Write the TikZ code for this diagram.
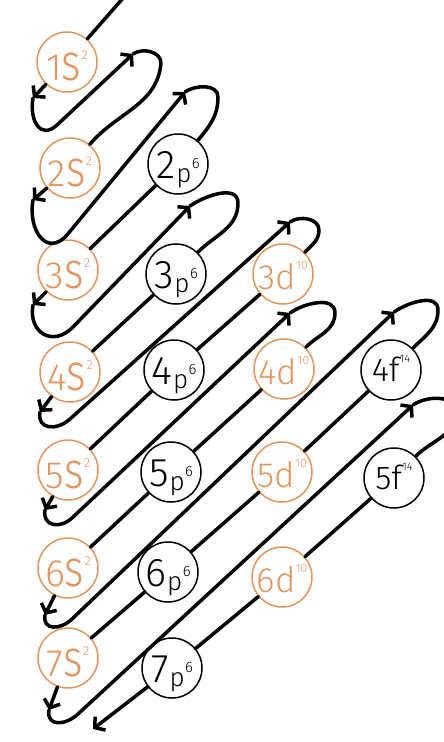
\documentclass[tikz,border=0pt]{standalone}
\usepackage{fontspec}
\usetikzlibrary{arrows.meta}
\newfontfamily\hand{Fira Sans Light}
\definecolor{orng}{RGB}{226,150,95}
\newcommand\lblS[2]{\smash{\raisebox{-18pt}{\fontsize{38}{38}\selectfont #1\scalebox{1.1}[1.36]{s}\kern0.3pt\raisebox{21pt}{\fontsize{13}{13}\selectfont #2}}}}
\newcommand\lblP[2]{\smash{\raisebox{-14pt}{\fontsize{40}{40}\selectfont #1\kern1pt\raisebox{-4pt}{\fontsize{26}{26}\selectfont p}\kern0.5pt\raisebox{10pt}{\fontsize{15}{15}\selectfont #2}}}}
\newcommand\lblD[2]{\smash{\raisebox{-15pt}{\fontsize{35}{35}\selectfont #1d\kern0.3pt\raisebox{20pt}{\fontsize{12}{12}\selectfont #2}}}}
\newcommand\lblF[2]{\smash{\raisebox{-11pt}{\fontsize{33}{33}\selectfont #1f\kern0.3pt\raisebox{19pt}{\fontsize{11}{11}\selectfont #2}}}}
\tikzset{
  orb/.style={circle, minimum size=60pt, inner sep=0pt, line width=1.5pt, font=\hand, fill=white},
  oorb/.style={orb, draw=orng, text=orng},
  korb/.style={orb, draw=black, text=black},
  ln/.style={line width=3.5pt, line cap=round, line join=round, black},
  arrowend/.style={-{Straight Barb[length=7pt,width=17pt]}},
  hairpin/.style={out=35, in=90},
}
\begin{document}
\begin{tikzpicture}[x=1pt,y=1pt]
\useasboundingbox (0,0) rectangle (444,-742);
\clip (0,0) rectangle (444,-742);
% orbitals
\node[oorb] (1s) at (67,-62) {\lblS{1}{2}};
\node[oorb] (2s) at (70,-168) {\lblS{2}{2}};
\node[oorb] (3s) at (68,-270) {\lblS{3}{2}};
\node[oorb] (4s) at (70,-372) {\lblS{4}{2}};
\node[oorb] (5s) at (68,-470) {\lblS{5}{2}};
\node[oorb] (6s) at (68,-568) {\lblS{6}{2}};
\node[oorb] (7s) at (68,-658) {\lblS{7}{2}};
\node[korb] (2p) at (178,-164) {\lblP{2}{6}};
\node[korb] (3p) at (176,-274) {\lblP{3}{6}};
\node[korb] (4p) at (174,-370) {\lblP{4}{6}};
\node[korb] (5p) at (171,-472) {\lblP{5}{6}};
\node[korb] (6p) at (168,-572) {\lblP{6}{6}};
\node[korb] (7p) at (172,-668) {\lblP{7}{6}};
\node[oorb] (3d) at (283,-274) {\lblD{3}{10}};
\node[oorb] (4d) at (284,-369) {\lblD{4}{10}};
\node[oorb] (5d) at (282,-472) {\lblD{5}{10}};
\node[oorb] (6d) at (282,-577) {\lblD{6}{10}};
\node[korb] (4f) at (391,-370) {\lblF{4}{14}};
\node[korb] (5f) at (394,-478) {\lblF{5}{14}};
% path coordinates
\coordinate (start) at (124,3);
\coordinate (A1) at (33,-98);   \coordinate (E1) at (57,-125);
\coordinate (T2) at (133,-54);  \coordinate (R2) at (161,-63);
\coordinate (A2) at (33,-200);  \coordinate (E2) at (67,-235);
\coordinate (T3) at (185,-92);  \coordinate (R3) at (218,-97);
\coordinate (A3) at (33,-305);  \coordinate (E3) at (73,-327);
\coordinate (T4) at (190,-206); \coordinate (R4) at (238,-203);
\coordinate (A4) at (40,-412);  \coordinate (E4) at (70,-419);
\coordinate (T5) at (290,-222); \coordinate (R5) at (319,-230);
\coordinate (A5) at (45,-510);  \coordinate (E5) at (72,-518);
\coordinate (T6) at (290,-313); \coordinate (R6) at (335,-313);
\coordinate (A6) at (45,-615);  \coordinate (E6) at (72,-619);
\coordinate (T7) at (394,-312); \coordinate (R7) at (438,-310);
\coordinate (A7) at (49,-710);  \coordinate (E7) at (78,-714);
\coordinate (T8) at (413,-405); \coordinate (R8) at (456,-412);
\coordinate (F) at (93,-729);
% diagonal 1
\draw[ln] (start) -- (1s);
\draw[ln,arrowend] (1s) -- (A1);
\draw[ln,arrowend] (A1) to[out=-100,in=223,looseness=1.6] (E1) -- (T2);
% diagonal 2
\draw[ln] (T2) to[hairpin] (R2) to[out=-95,in=50] (2s);
\draw[ln,arrowend] (2s) -- (A2);
\draw[ln,arrowend] (A2) to[out=-100,in=228,looseness=1.6] (E2) -- (T3);
% diagonal 3
\draw[ln] (T3) to[hairpin] (R3) to[out=-90,in=50] (2p);
\draw[ln] (2p) -- (3s);
\draw[ln,arrowend] (3s) -- (A3);
\draw[ln,arrowend] (A3) to[out=-100,in=226,looseness=1.6] (E3) -- (T4);
% diagonal 4
\draw[ln] (T4) to[hairpin] (R4) to[out=-90,in=45] (3p);
\draw[ln] (3p) -- (4s);
\draw[ln,arrowend] (4s) -- (A4);
\draw[ln,arrowend] (A4) to[out=-100,in=222,looseness=1.5] (E4) -- (T5);
% diagonal 5
\draw[ln] (T5) to[hairpin] (R5) to[out=-90,in=45] (3d);
\draw[ln] (3d) -- (4p);
\draw[ln] (4p) -- (5s);
\draw[ln,arrowend] (5s) -- (A5);
\draw[ln,arrowend] (A5) to[out=-100,in=223,looseness=1.5] (E5) -- (T6);
% diagonal 6
\draw[ln] (T6) to[hairpin] (R6) to[out=-90,in=45] (4d);
\draw[ln] (4d) -- (5p);
\draw[ln] (5p) -- (6s);
\draw[ln,arrowend] (6s) -- (A6);
\draw[ln,arrowend] (A6) to[out=-100,in=224,looseness=1.5] (E6) -- (T7);
% diagonal 7
\draw[ln] (T7) to[hairpin] (R7) to[out=-90,in=45] (4f);
\draw[ln] (4f) -- (5d);
\draw[ln] (5d) -- (6p);
\draw[ln] (6p) -- (7s);
\draw[ln,arrowend] (7s) -- (A7);
\draw[ln,arrowend] (A7) to[out=-100,in=223,looseness=1.5] (E7) -- (T8);
% diagonal 8
\draw[ln] (T8) to[hairpin] (R8) to[out=-90,in=45] (5f);
\draw[ln] (5f) -- (6d);
\draw[ln] (6d) -- (7p);
\draw[ln,arrowend] (7p) -- (F);
\end{tikzpicture}
\end{document}
